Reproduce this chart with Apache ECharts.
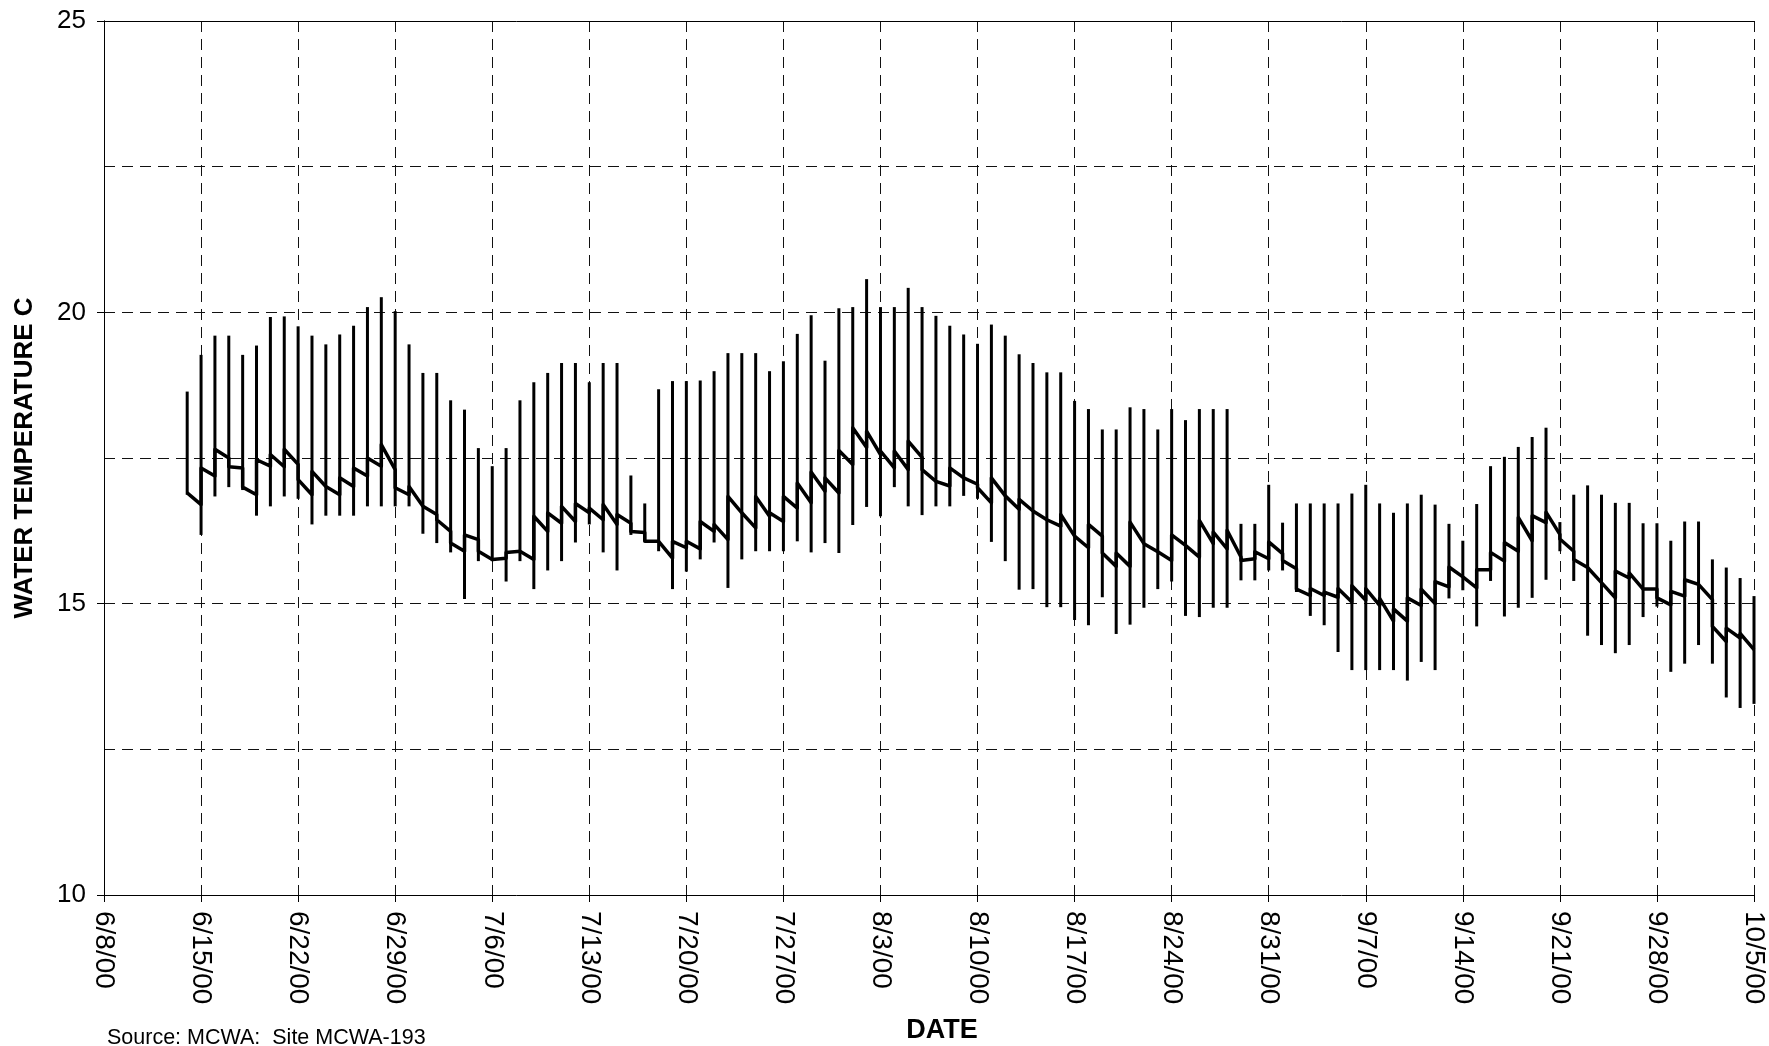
<!DOCTYPE html>
<html>
<head>
<meta charset="utf-8">
<script src="https://cdn.jsdelivr.net/npm/echarts@6/dist/echarts.min.js"></script>
<style>
  html, body { margin: 0; padding: 0; background: #fff; }
  #chart { width: 1769px; height: 1046px; }
</style>
</head>
<body>
<div id="chart"></div>
<script>
// tick labels, one every 7 days from 6/8/00
var tickLabels = ['6/8/00', '6/15/00', '6/22/00', '6/29/00', '7/6/00', '7/13/00', '7/20/00', '7/27/00', '8/3/00',
    '8/10/00', '8/17/00', '8/24/00', '8/31/00', '9/7/00', '9/14/00', '9/21/00', '9/28/00', '10/5/00'];

// first record is 6/14/00 = day 6 counted from 6/8/00, one record per day up to 10/5/00
var firstDay = 6;

// daily maximum water temperature (C)
var dailyMax = [
    18.64, 19.27, 19.6, 19.6, 19.27, 19.43, 19.92, 19.93, 19.76, 19.6, 19.45, 19.62, 19.77, 20.09, 20.26, 20.02, 19.45,
    18.96, 18.96, 18.49, 18.33, 17.67, 17.36, 17.67, 18.49, 18.8, 18.96, 19.13, 19.13, 18.8, 19.13, 19.13, 17.2, 16.72,
    18.68, 18.82, 18.82, 18.83, 18.99, 19.3, 19.3, 19.3, 18.99, 19.16, 19.63, 19.95, 19.17, 20.07,
    20.09, 20.57, 20.09, 20.09, 20.42, 20.09, 19.94, 19.77, 19.62, 19.46, 19.79, 19.6, 19.28, 19.13, 18.97, 18.97,
    18.48, 18.34, 17.99, 17.99, 18.37, 18.34, 17.99, 18.34, 18.15, 18.34, 18.34, 18.34, 16.37, 16.37, 17.04,
    16.39, 16.72, 16.72, 16.72, 16.72, 16.89, 17.04, 16.72, 16.56, 16.72, 16.87, 16.7, 16.37, 16.08, 16.71, 17.36,
    17.52, 17.69, 17.86, 18.02, 16.4, 16.87, 17.03, 16.87, 16.73, 16.73, 16.38, 16.38, 16.08, 16.41,
    16.41, 15.76, 15.62, 15.44, 15.13
];

// daily minimum water temperature (C)
var dailyMin = [
    16.87, 16.18, 16.84, 17.0, 16.95, 16.51, 16.67, 16.84, 16.8, 16.36, 16.51, 16.51, 16.51, 16.67, 16.67, 16.67, 16.67,
    16.2, 16.04, 15.88, 15.08, 15.73, 15.73, 15.38, 15.73, 15.25, 15.57, 15.73, 16.05, 16.36, 15.88, 15.57, 16.18, 16.07,
    15.9, 15.25, 15.55, 15.76, 16.05, 15.27, 15.76, 15.9, 15.9, 15.9, 16.07, 15.88, 16.04, 15.87,
    16.35, 16.66, 16.5, 17.0, 16.67, 16.52, 16.67, 16.67, 16.85, 16.8, 16.06, 15.73, 15.24, 15.25, 14.94, 14.94,
    14.72, 14.63, 15.11, 14.48, 14.64, 14.93, 15.25, 15.38, 14.79, 14.77, 14.93, 14.93, 15.4, 15.4, 15.57,
    15.57, 15.2, 14.79, 14.63, 14.17, 13.86, 13.86, 13.86, 13.86, 13.68, 14.0, 13.86, 15.09, 15.23, 14.61, 15.39,
    14.78, 14.93, 15.1, 15.41, 15.9, 15.39, 14.45, 14.29, 14.15, 14.29, 14.77, 14.95, 13.83, 13.97,
    14.29, 13.97, 13.39, 13.21, 13.28
];

// running line: value where it arrives at each day, and value it leaves from after the daily step
var lineIn = [
    16.9, 16.7, 17.19, 17.5, 17.33, 16.87, 17.36, 17.35, 17.39, 16.87, 17.01, 16.87, 17.01, 17.19, 17.36, 17.3, 16.87,
    16.67, 16.53, 16.24, 15.9, 16.1, 15.76, 15.78, 15.9, 15.76, 16.24, 16.38, 16.41, 16.56, 16.44, 16.36, 16.38, 16.22,
    16.07, 15.78, 15.96, 15.94, 16.24, 16.1, 16.56, 16.3, 16.5, 16.41, 16.64, 16.73, 16.93, 16.9,
    17.39, 17.68, 17.56, 17.33, 17.3, 17.51, 17.1, 17.02, 17.16, 17.05, 16.73, 16.85, 16.62, 16.59, 16.44, 16.33,
    16.16, 15.96, 16.16, 15.64, 15.64, 16.03, 15.89, 15.74, 16.0, 15.8, 16.03, 15.94, 15.8, 15.77, 15.77,
    15.86, 15.6, 15.14, 15.14, 15.11, 15.03, 15.06, 14.97, 14.7, 14.7, 14.97, 15.0, 15.29, 15.46, 15.27, 15.58,
    15.73, 15.9, 16.08, 16.39, 16.19, 15.9, 15.62, 15.36, 15.1, 15.44, 15.25, 15.25, 14.98, 15.13,
    15.33, 15.07, 14.35, 14.41, 14.21
];
var lineOut = [
    16.9, 17.33, 17.65, 17.35, 17.0, 17.47, 17.56, 17.65, 17.13, 17.27, 17.04, 17.16, 17.33, 17.5, 17.73, 16.99, 17.01,
    16.7, 16.44, 16.04, 16.18, 15.9, 15.78, 15.88, 15.9, 16.5, 16.56, 16.67, 16.72, 16.64, 16.7, 16.53, 16.24, 16.07,
    16.04, 16.07, 16.07, 16.41, 16.36, 16.84, 16.56, 16.84, 16.56, 16.84, 17.07, 17.26, 17.16, 17.63,
    18.02, 17.96, 17.62, 17.62, 17.79, 17.3, 17.1, 17.33, 17.16, 16.99, 17.16, 16.82, 16.79, 16.62, 16.47, 16.53,
    16.13, 16.36, 15.87, 15.87, 16.4, 16.03, 15.89, 16.18, 16.0, 16.43, 16.23, 16.26, 15.74, 15.89, 16.06,
    15.74, 15.25, 15.26, 15.2, 15.26, 15.31, 15.26, 15.09, 14.91, 15.1, 15.25, 15.38, 15.63, 15.44, 15.58, 15.88,
    16.05, 16.48, 16.51, 16.57, 16.11, 15.76, 15.65, 15.36, 15.56, 15.53, 15.25, 15.1, 15.21, 15.41,
    15.36, 14.61, 14.58, 14.49, 14.21
];

var rangeData = dailyMax.map(function (v, i) {
    return [firstDay + i, v, dailyMin[i]];
});
var lineData = [];
lineIn.forEach(function (v, i) {
    lineData.push([firstDay + i, v]);
    lineData.push([firstDay + i, lineOut[i]]);
});

var font = 'Liberation Sans, Arial, sans-serif';
var dashed = { color: '#111', width: 1, type: [11, 7] };

var chart = echarts.init(document.getElementById('chart'));
var option = {
    animation: false,
    backgroundColor: '#fff',
    grid: { left: 104, right: 15, top: 21, bottom: 151 },
    xAxis: [
        {
            type: 'value',
            min: 0,
            max: 119,
            interval: 7,
            axisLine: { lineStyle: { color: '#000', width: 1 } },
            axisTick: { show: true, length: 7, lineStyle: { color: '#000' } },
            splitLine: { show: true, lineStyle: dashed },
            axisLabel: {
                rotate: -90,
                margin: 16,
                color: '#000',
                fontFamily: font,
                fontSize: 28,
                formatter: function (v) { return tickLabels[Math.round(v / 7)]; }
            }
        },
        {
            // solid frame line along the top
            type: 'value',
            position: 'top',
            min: 0,
            max: 119,
            axisLine: { lineStyle: { color: '#000', width: 1 } },
            axisTick: { show: false },
            axisLabel: { show: false },
            splitLine: { show: false }
        }
    ],
    yAxis: [
        {
            type: 'value',
            min: 10,
            max: 25,
            interval: 2.5,
            axisLine: { show: true, lineStyle: { color: '#000', width: 1 } },
            axisTick: { show: false },
            axisLabel: { show: false },
            splitLine: { show: true, lineStyle: dashed }
        },
        {
            type: 'value',
            position: 'left',
            min: 10,
            max: 25,
            interval: 5,
            axisLine: { show: true, lineStyle: { color: '#000', width: 1 } },
            axisTick: { show: true, length: 7, lineStyle: { color: '#000' } },
            splitLine: { show: false },
            axisLabel: { color: '#000', fontFamily: font, fontSize: 26, margin: 18 }
        }
    ],
    graphic: [
        {
            type: 'text',
            x: 25,
            y: 458,
            rotation: Math.PI / 2,
            style: {
                text: 'WATER TEMPERATURE C',
                font: 'bold 26px ' + font,
                fill: '#000',
                align: 'center',
                verticalAlign: 'middle'
            }
        },
        {
            type: 'text',
            x: 942,
            y: 1031,
            style: {
                text: 'DATE',
                font: 'bold 27px ' + font,
                fill: '#000',
                align: 'center',
                verticalAlign: 'middle'
            }
        },
        {
            type: 'text',
            x: 107,
            y: 1038,
            style: {
                text: 'Source: MCWA:  Site MCWA-193',
                font: '21.5px ' + font,
                fill: '#000',
                align: 'left',
                verticalAlign: 'middle'
            }
        }
    ],
    series: [
        {
            name: 'Daily range',
            type: 'custom',
            xAxisIndex: 0,
            yAxisIndex: 0,
            data: rangeData,
            renderItem: function (params, api) {
                var top = api.coord([api.value(0), api.value(1)]);
                var bot = api.coord([api.value(0), api.value(2)]);
                return {
                    type: 'line',
                    shape: { x1: top[0], y1: top[1], x2: bot[0], y2: bot[1] },
                    style: { stroke: '#000', lineWidth: 3 }
                };
            }
        },
        {
            name: 'Temperature',
            type: 'line',
            xAxisIndex: 0,
            yAxisIndex: 0,
            data: lineData,
            showSymbol: false,
            lineStyle: { color: '#000', width: 3.5, join: 'round' }
        }
    ]
};
chart.setOption(option);
window.addEventListener('resize', chart.resize);
</script>
</body>
</html>
